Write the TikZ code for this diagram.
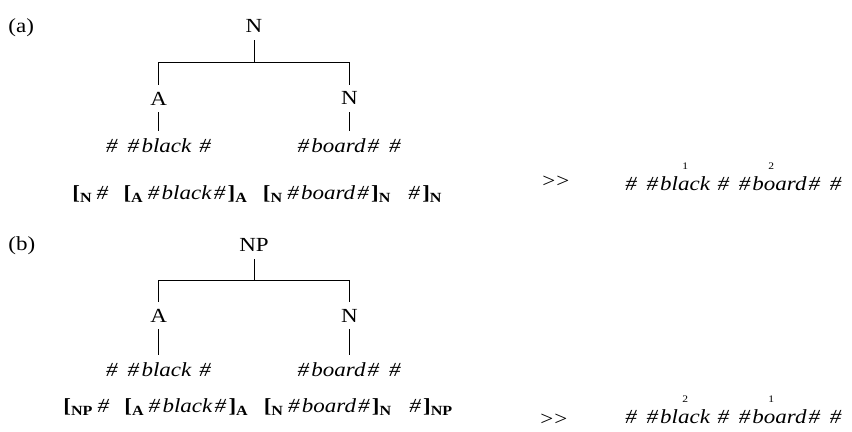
\documentclass[tikz,border=0pt]{standalone}
\usepackage{fontspec}
\setmainfont{Liberation Serif}[FakeStretch=1.15]
\usepackage{tikz-qtree,tikz-qtree-compat}
\usetikzlibrary{calc}

% boundary symbol, labelled brackets, stress digit over a vowel
\newcommand{\bd}{\kern1pt\textit{\#}\kern1pt}
\newcommand{\lbr}[1]{\textbf{[}\textsubscript{\textbf{#1}}\kern1pt}
\newcommand{\rbr}[1]{\textbf{]}\textsubscript{\textbf{#1}}\kern1pt}
\newcommand{\gap}{\hspace{0.65em}}
\newcommand{\gtgt}{>\kern0.5pt>}
\newcommand{\strs}[2]{\ooalign{#2\cr\hidewidth\raisebox{1.05em}[0pt][0pt]{\kern0.15em\tiny\upshape #1}\hidewidth\cr}}

\tikzset{
  every tree node/.style={anchor=base},
  edge from parent/.style={draw, edge from parent path={(\tikzparentnode.south) |- ($(\tikzparentnode.south)!.5!(\tikzchildnode.north)$) -| (\tikzchildnode.north)}},
  plain/.style={anchor=base west, inner sep=0pt},
}

\begin{document}
\begin{tikzpicture}[x=0.5pt,y=-0.5pt]
\useasboundingbox (0,0) rectangle (852,432);

% (a) compound
\node[plain] (labA) at (8,33) {(a)};
\begin{scope}[shift={(254,33)}, level distance=36pt, sibling distance=34.5pt, level 2/.style={level distance=23.5pt}]
\Tree
[.\node(topA){N};
	[.\node(adjA){A}; \node(wdA1){\bd\ \bd\textit{black}\ \bd}; ]
	[.\node(nnA){N}; \node(wdA2){\bd\textit{board}\bd\ \bd}; ]
]
\end{scope}
\node[plain] (brA) at (72,200) {\lbr{N}\bd\gap\lbr{A}\bd\textit{black}\bd\rbr{A}\gap\lbr{N}\bd\textit{board}\bd\rbr{N}\gap\bd\rbr{N}};
\node[plain] (gtA) at (542,188) {\gtgt};
\node[plain] (outA) at (623,191) {\textit{\bd\ \bd bl\strs{1}{a}ck \bd\ \bd b\strs{2}{o}ard\bd\ \bd}};

% (b) phrase
\node[plain] (labB) at (8,251) {(b)};
\begin{scope}[shift={(254,252)}, level distance=35pt, sibling distance=34.5pt, level 2/.style={level distance=27pt}]
\Tree
[.\node(topB){NP};
	[.\node(adjB){A}; \node(wdB1){\bd\ \bd\textit{black}\ \bd}; ]
	[.\node(nnB){N}; \node(wdB2){\bd\textit{board}\bd\ \bd}; ]
]
\end{scope}
\node[plain] (brB) at (63,413) {\lbr{NP}\bd\gap\lbr{A}\bd\textit{black}\bd\rbr{A}\gap\lbr{N}\bd\textit{board}\bd\rbr{N}\gap\bd\rbr{NP}};
\node[plain] (gtB) at (540,426) {\gtgt};
\node[plain] (outB) at (623,424) {\textit{\bd\ \bd bl\strs{2}{a}ck \bd\ \bd b\strs{1}{o}ard\bd\ \bd}};
\end{tikzpicture}
\end{document}
